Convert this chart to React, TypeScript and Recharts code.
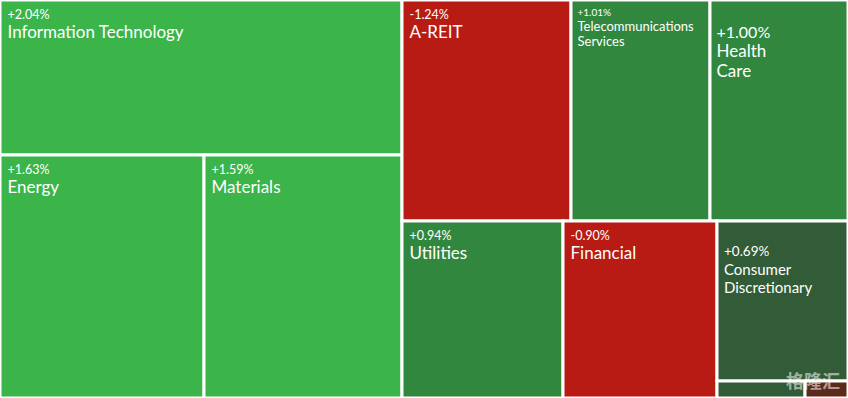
import React from "react";
import { Treemap } from "recharts";

const sectors = [
  "Information Technology",
  "Energy",
  "Materials",
  "A-REIT",
  "Telecommunications Services",
  "Health Care",
  "Utilities",
  "Financial",
  "Consumer Discretionary",
  "Industrials",
  "Consumer Staples",
];
const weights = [62.1, 49.6, 48.2, 37.4, 30.7, 30.5, 28.5, 27.4, 21.1, 1.46, 0.71];
const changes = [2.04, 1.63, 1.59, -1.24, 1.01, 1.0, 0.94, -0.9, 0.69, 0.35, -0.3];

// nesting of sector indices, so the squarified layout splits like the original
const groups = [[0, [1, 2]], [[[3, 4], 5], [[6, 7], [8, [9, 10]]]]];

type Node = { name: string; size?: number; change?: number; children?: Node[] };

function build(g: any, key: string): Node {
  if (typeof g === "number") return { name: sectors[g], size: weights[g], change: changes[g] };
  return { name: key, children: g.map((c: any, i: number) => build(c, `${key}-${i}`)) };
}
const data = build(groups, "g").children as Node[];

function colorFor(c: number) {
  if (c >= 1.5) return "#3bb54a";
  if (c >= 0.9) return "#32873f";
  if (c > 0) return "#325c38";
  if (c <= -0.8) return "#b81b13";
  return "#5b2a1a";
}

// label sizing for the narrow tiles (the rest use the default)
const labelFit: Record<string, { pct: number; txt: number; dx: number; y0: number; y1: number; lh: number; wrap: boolean }> = {
  "Telecommunications Services": { pct: 10, txt: 13, dx: 6.5, y0: 15.7, y1: 30.7, lh: 15, wrap: true },
  "Health Care": { pct: 16, txt: 17, dx: 6.5, y0: 38.3, y1: 57.3, lh: 19.5, wrap: true },
  "Consumer Discretionary": { pct: 13.5, txt: 15, dx: 7, y0: 35, y1: 53.6, lh: 18, wrap: true },
};
const defaultFit = { pct: 12.5, txt: 17, dx: 7.5, y0: 18.5, y1: 37.5, lh: 20, wrap: false };

const fmt = (c: number) => `${c > 0 ? "+" : ""}${c.toFixed(2)}%`;

function renderCell(props: any) {
  const { x, y, width, height, name, change, children } = props;
  if ((children && children.length) || change === undefined) return <g />;
  const fit = labelFit[name] || defaultFit;
  const lines = fit.wrap ? name.split(" ") : [name];
  const showText = width > 60 && height > 40;
  const textProps = { fill: "#fff", stroke: "none", fontFamily: "Lato, sans-serif", fontWeight: 400 };
  return (
    <g>
      <rect x={x} y={y} width={width} height={height} fill={colorFor(change)} stroke="#fff" strokeWidth={3} />
      {showText && (
        <text x={x + fit.dx} y={y + fit.y0} fontSize={fit.pct} {...textProps}>
          {fmt(change)}
        </text>
      )}
      {showText &&
        lines.map((l: string, i: number) => (
          <text key={i} x={x + fit.dx} y={y + fit.y1 + i * fit.lh} fontSize={fit.txt} {...textProps}>
            {l}
          </text>
        ))}
    </g>
  );
}

export default function App() {
  return (
    <div style={{ position: "absolute", left: 0, top: 0, width: 848, height: 398, background: "#fff" }}>
      <Treemap
        width={848}
        height={398}
        data={data}
        dataKey="size"
        aspectRatio={1.4}
        stroke="#fff"
        isAnimationActive={false}
        content={renderCell}
      />
      <div
        style={{
          position: "absolute",
          right: 8,
          bottom: 5,
          color: "rgba(255,255,255,0.55)",
          fontFamily: "'Noto Sans CJK SC', sans-serif",
          fontSize: 18,
          fontWeight: 700,
          pointerEvents: "none",
        }}
      >
        格隆汇
      </div>
    </div>
  );
}
